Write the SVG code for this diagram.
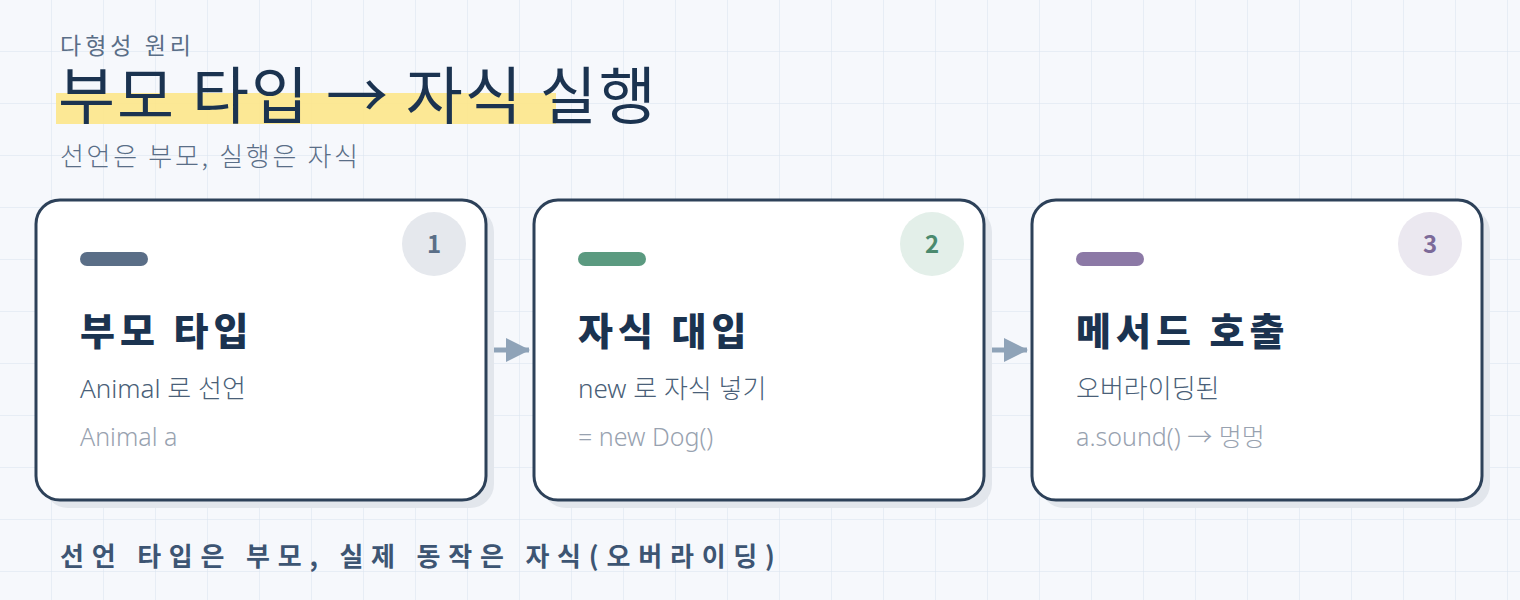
<svg xmlns="http://www.w3.org/2000/svg" width="1520" height="600" viewBox="0 0 1520 600">
  <defs>
    <pattern id="grid" width="52" height="52" patternUnits="userSpaceOnUse">
      <path d="M52 0 V52 M0 52 H52" fill="none" stroke="#d9e3ef" stroke-width="1"/>
    </pattern>
    <marker id="arrow" viewBox="0 0 24 24" markerWidth="24" markerHeight="24" refX="23" refY="12" markerUnits="userSpaceOnUse" orient="auto">
      <path d="M0 0 L24 12 L0 24 Z" fill="#8fa3b8"/>
    </marker>
    <style>
      .card { fill: #ffffff; stroke: #2d4159; stroke-width: 3; }
      .shadow { fill: #e2e6ec; }
      .title { font-family: "Noto Sans CJK KR", "Noto Sans", sans-serif; font-weight: 900; font-size: 38px; fill: #1b3350; letter-spacing: 5px; }
      .sub { font-family: "Noto Sans", "Noto Sans CJK KR", sans-serif; font-weight: 300; font-size: 26px; fill: #4a5f78; }
      .code { font-family: "Noto Sans", "Noto Sans CJK KR", sans-serif; font-weight: 300; font-size: 25px; fill: #98a2b0; }
      .num { font-family: "Noto Sans CJK KR", "Noto Sans", sans-serif; font-weight: 700; font-size: 24px; text-anchor: middle; }
      .conn { stroke: #8fa3b8; stroke-width: 5; fill: none; }
    </style>
  </defs>
  <rect width="1520" height="600" fill="#f6f8fc"/>
  <rect width="1520" height="600" fill="url(#grid)"/>

  <g id="header">
    <text x="60" y="54" font-family="Noto Sans CJK KR, sans-serif" font-size="23" fill="#5a6e87" letter-spacing="4">다형성 원리</text>
    <rect x="56" y="93" width="500" height="31" fill="#fde58a" opacity="0.9"/>
    <text x="58" y="119" font-family="Noto Sans CJK KR, sans-serif" font-size="62" fill="#1b3350" letter-spacing="2">부모 타입 → 자식 실행</text>
    <text x="60" y="166" font-family="Noto Sans CJK KR, sans-serif" font-size="26" font-weight="300" fill="#5a6e87" letter-spacing="2.7">선언은 부모, 실행은 자식</text>
  </g>

  <g id="connectors">
    <line class="conn" x1="490" y1="350" x2="529" y2="350" marker-end="url(#arrow)"/>
    <line class="conn" x1="988" y1="350" x2="1027" y2="350" marker-end="url(#arrow)"/>
  </g>

  <g id="card1">
    <rect class="shadow" x="44" y="208" width="450" height="300" rx="24"/>
    <rect class="card" x="36" y="200" width="450" height="300" rx="24"/>
    <rect x="80" y="252" width="68" height="14" rx="7" fill="#5a6e87"/>
    <circle cx="434" cy="244" r="32" fill="#e5e8ed"/>
    <text class="num" x="434" y="253" fill="#5a6e87">1</text>
    <text class="title" x="80" y="345">부모 타입</text>
    <text class="sub" x="80" y="398">Animal 로 선언</text>
    <text class="code" x="80" y="446">Animal a</text>
  </g>

  <g id="card2">
    <rect class="shadow" x="542" y="208" width="450" height="300" rx="24"/>
    <rect class="card" x="534" y="200" width="450" height="300" rx="24"/>
    <rect x="578" y="252" width="68" height="14" rx="7" fill="#5b9a80"/>
    <circle cx="932" cy="244" r="32" fill="#e3efe9"/>
    <text class="num" x="932" y="253" fill="#4b8a6e">2</text>
    <text class="title" x="578" y="345">자식 대입</text>
    <text class="sub" x="578" y="398">new 로 자식 넣기</text>
    <text class="code" x="578" y="446">= new Dog()</text>
  </g>

  <g id="card3">
    <rect class="shadow" x="1040" y="208" width="450" height="300" rx="24"/>
    <rect class="card" x="1032" y="200" width="450" height="300" rx="24"/>
    <rect x="1076" y="252" width="68" height="14" rx="7" fill="#8c79a6"/>
    <circle cx="1430" cy="244" r="32" fill="#ebe8f0"/>
    <text class="num" x="1430" y="253" fill="#7c6a99">3</text>
    <text class="title" x="1076" y="345">메서드 호출</text>
    <text class="sub" x="1076" y="398">오버라이딩된</text>
    <text class="code" x="1076" y="446">a.sound() → 멍멍</text>
  </g>

  <g id="footer">
    <text x="60" y="566" font-family="Noto Sans CJK KR, sans-serif" font-size="26" font-weight="700" fill="#3d5573" letter-spacing="7.8">선언 타입은 부모, 실제 동작은 자식(오버라이딩)</text>
  </g>
</svg>
